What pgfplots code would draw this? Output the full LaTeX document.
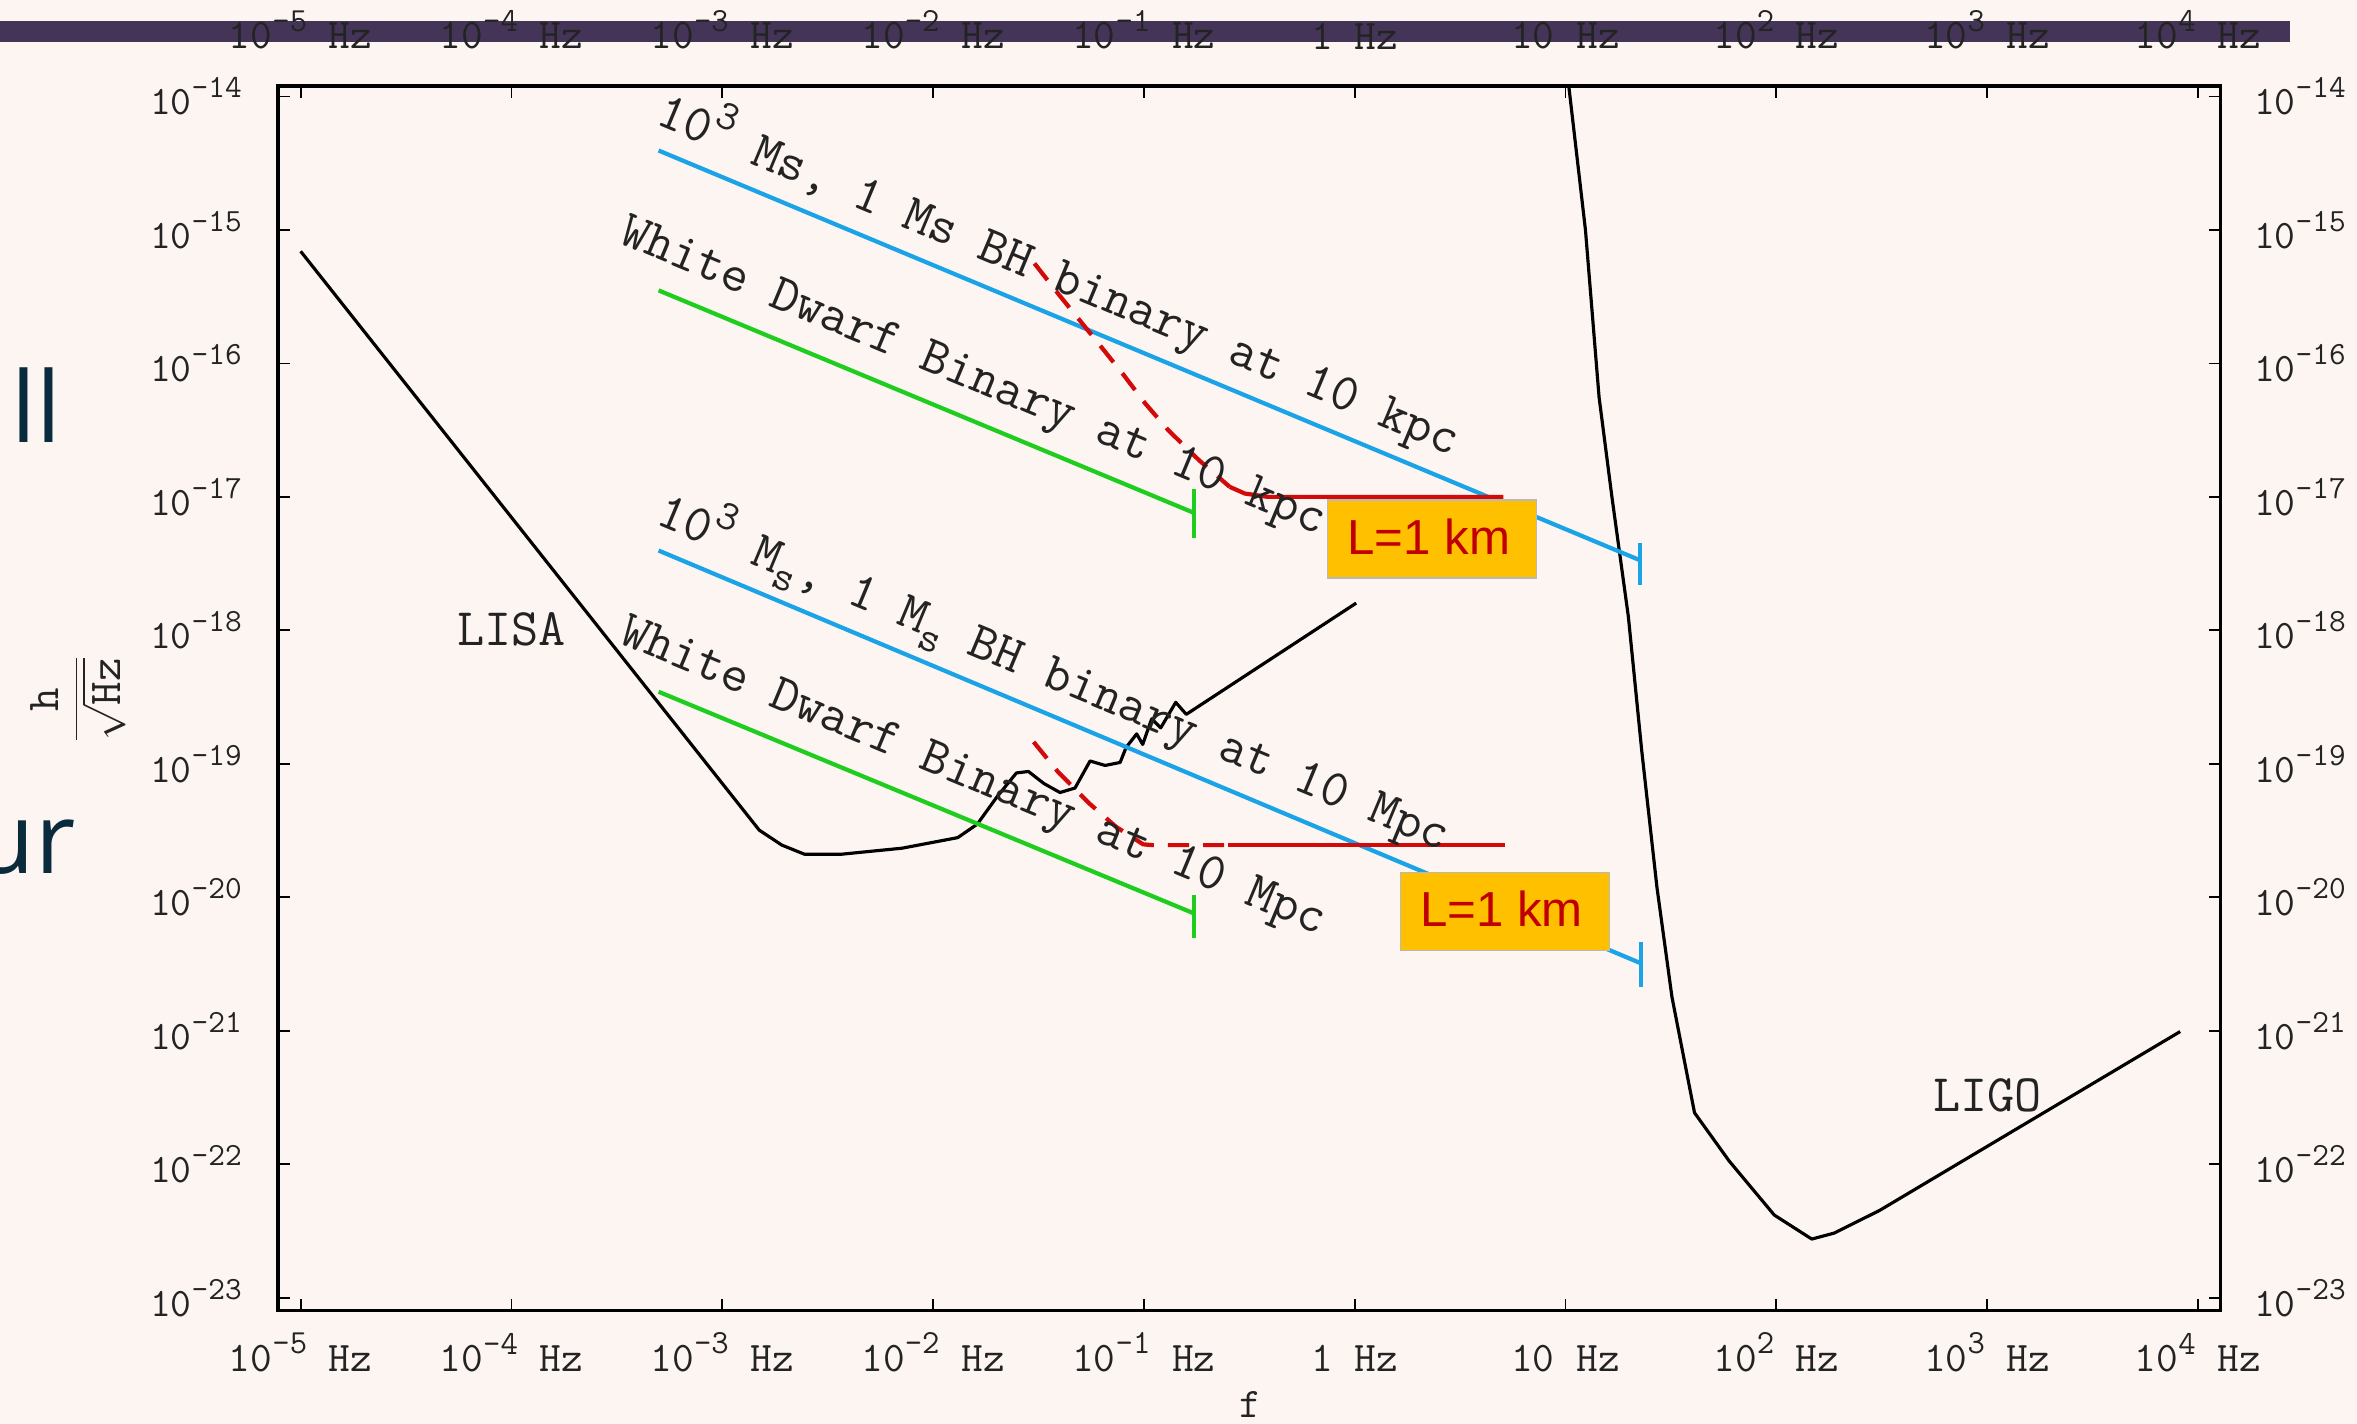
\documentclass[border=0pt]{standalone}
\usepackage{fontspec}
\usepackage{graphicx}
\usepackage{pgfplots}
\pgfplotsset{compat=1.18}
\newfontfamily\boxfont{Liberation Sans}
\newfontfamily\slidefont{Open Sans}

\definecolor{pagebg}{RGB}{253,245,242}
\definecolor{bandpurple}{RGB}{68,53,88}
\definecolor{slidetext}{RGB}{10,43,60}
\definecolor{srcblue}{RGB}{26,163,230}
\definecolor{srcgreen}{RGB}{30,205,30}
\definecolor{detred}{RGB}{210,10,10}
\definecolor{boxorange}{RGB}{255,192,0}
\definecolor{boxtext}{RGB}{192,0,0}
\definecolor{labelgray}{RGB}{35,35,35}

% raised / lowered small text for exponents and subscripts
\newcommand\pw[1]{\raisebox{0.42em}{\scalebox{0.8}{#1}}}
\newcommand\sub[1]{\raisebox{-0.25em}{\scalebox{0.8}{#1}}}
% keeps plain labels on the same baseline as those with exponents
\newcommand\pwstrut{\vphantom{\pw{0}}}

\tikzset{linelabel/.style={anchor=base west, inner sep=0pt, rotate=-22.6,
    font=\ttfamily\fontsize{15}{15}\selectfont, text=labelgray}}

\begin{document}
\begin{tikzpicture}
  % page
  \fill[pagebg] (0,0) rectangle (235.7mm,142.4mm);
  \path[use as bounding box] (0,0) rectangle (235.7mm,142.4mm);
  % banner strip along the top
  \fill[bandpurple] (0,138.17mm) rectangle (228.98mm,140.28mm);
  % slide text running off the left edge
  \node[anchor=base east, inner sep=0pt, text=slidetext, font=\slidefont\fontsize{28}{28}\selectfont] at (6.2mm,98.18mm) {ll};
  \node[anchor=base east, inner sep=0pt, text=slidetext, font=\slidefont\fontsize{28}{28}\selectfont] at (7.6mm,55.03mm) {ur};

  % tick labels on top and right
  \begin{axis}[
    at={(27.81mm,11.35mm)}, anchor=south west,
    scale only axis, width=194.26mm, height=122.46mm,
    xmode=log, ymode=log,
    xmin=7.816e-6, xmax=12823, ymin=8.017e-24, ymax=1.1995e-14,
    xtick={1e-5,1e-4,1e-3,1e-2,1e-1,1,10,100,1000,10000},
    xticklabels={10\pw{-5} Hz,10\pw{-4} Hz,10\pw{-3} Hz,10\pw{-2} Hz,10\pw{-1} Hz,\pwstrut 1 Hz,\pwstrut 10 Hz,10\pw{2} Hz,10\pw{3} Hz,10\pw{4} Hz},
    ytick={1e-23,1e-22,1e-21,1e-20,1e-19,1e-18,1e-17,1e-16,1e-15,1e-14},
    yticklabels={10\pw{-23},10\pw{-22},10\pw{-21},10\pw{-20},10\pw{-19},10\pw{-18},10\pw{-17},10\pw{-16},10\pw{-15},10\pw{-14}},
    minor tick length=0pt, minor tick style={draw=none},
    xticklabel style={font=\ttfamily\fontsize{12}{12}\selectfont, text=labelgray, yshift=2.4mm},
    yticklabel style={font=\ttfamily\fontsize{11.5}{12}\selectfont, text=labelgray, xshift=2.1mm},
    axis line style={draw=none}, major tick length=0pt,
    xticklabel pos=right, yticklabel pos=right,
  ]
    \addplot[draw=none] coordinates {(1,1e-18)};
  \end{axis}

  \begin{axis}[
    at={(27.81mm,11.35mm)}, anchor=south west,
    scale only axis, width=194.26mm, height=122.46mm,
    xmode=log, ymode=log,
    xmin=7.816e-6, xmax=12823, ymin=8.017e-24, ymax=1.1995e-14,
    xtick={1e-5,1e-4,1e-3,1e-2,1e-1,1,10,100,1000,10000},
    xticklabels={10\pw{-5} Hz,10\pw{-4} Hz,10\pw{-3} Hz,10\pw{-2} Hz,10\pw{-1} Hz,\pwstrut 1 Hz,\pwstrut 10 Hz,10\pw{2} Hz,10\pw{3} Hz,10\pw{4} Hz},
    ytick={1e-23,1e-22,1e-21,1e-20,1e-19,1e-18,1e-17,1e-16,1e-15,1e-14},
    yticklabels={10\pw{-23},10\pw{-22},10\pw{-21},10\pw{-20},10\pw{-19},10\pw{-18},10\pw{-17},10\pw{-16},10\pw{-15},10\pw{-14}},
    minor tick length=0pt, minor tick style={draw=none},
    xticklabel style={font=\ttfamily\fontsize{12}{12}\selectfont, text=labelgray, yshift=-1mm},
    yticklabel style={font=\ttfamily\fontsize{11.5}{12}\selectfont, text=labelgray, xshift=-2.4mm},
    axis background/.style={fill=pagebg},
    axis line style={line width=1pt, black},
    tick align=inside, tick pos=both, major tick length=1.2mm,
    major tick style={line width=0.5pt, black},
  ]
    % LISA sensitivity
    \addplot[black, line width=0.9pt, line join=round] coordinates {
      (1e-5,6.918e-16) (1.498e-3,3.184e-20) (1.917e-3,2.460e-20)
      (2.452e-3,2.104e-20) (3.697e-3,2.104e-20) (7.131e-3,2.333e-20)
      (1.309e-2,2.799e-20) (1.621e-2,3.532e-20) (2.006e-2,5.636e-20)
      (2.484e-2,8.539e-20) (2.833e-2,8.762e-20) (3.356e-2,7.118e-20)
      (4.000e-2,6.095e-20) (4.713e-2,6.587e-20) (5.555e-2,1.050e-19)
      (6.546e-2,9.723e-20) (7.715e-2,1.024e-19) (8.237e-2,1.327e-19)
      (9.244e-2,1.676e-19) (9.870e-2,1.397e-19) (1.089e-1,2.172e-19)
      (1.202e-1,1.859e-19) (1.416e-1,2.889e-19) (1.589e-1,2.347e-19)
      (1.0166,1.600e-18)
    };
    % LIGO sensitivity
    \addplot[black, line width=0.9pt, line join=round] coordinates {
      (10.13,1.637e-14) (12.44,9.94e-16) (14.43,5.587e-17) (16.59,1.009e-17)
      (19.87,1.267e-18) (23.03,1.227e-19) (27.15,1.189e-20) (31.99,1.791e-21)
      (40.93,2.430e-22) (59.70,1.059e-22) (97.72,4.166e-23) (147.3,2.750e-23)
      (188.5,3.051e-23) (308.6,4.502e-23) (8237,9.863e-22)
    };

    % BH binaries (10 kpc and 10 Mpc)
    \addplot[srcblue, line width=1.2pt] coordinates {(4.989e-4,3.936e-15) (22.59,3.350e-18)};
    \addplot[srcblue, line width=1.2pt] coordinates {(22.59,4.52e-18) (22.59,2.18e-18)};
    \addplot[srcblue, line width=1.2pt] coordinates {(4.989e-4,3.963e-18) (22.75,3.206e-21)};
    \addplot[srcblue, line width=1.2pt] coordinates {(22.75,4.61e-21) (22.75,2.12e-21)};

    % white dwarf binaries (10 kpc and 10 Mpc)
    \addplot[srcgreen, line width=1.2pt] coordinates {(4.989e-4,3.524e-16) (0.1730,7.586e-18)};
    \addplot[srcgreen, line width=1.2pt] coordinates {(0.1730,1.148e-17) (0.1730,4.880e-18)};
    \addplot[srcgreen, line width=1.2pt] coordinates {(4.989e-4,3.467e-19) (0.1730,7.568e-21)};
    \addplot[srcgreen, line width=1.2pt] coordinates {(0.1730,1.045e-20) (0.1730,4.920e-21)};

    % L = 1 km detector curves
    \addplot[detred, line width=1.2pt, dash pattern=on 6pt off 4pt] coordinates {
      (3.027e-2,5.610e-16) (3.972e-2,3.243e-16) (5.916e-2,1.493e-16)
      (7.925e-2,8.395e-17) (1.016e-1,5.000e-17) (1.306e-1,3.155e-17)
      (1.828e-1,1.879e-17) (2.553e-1,1.189e-17)
    };
    \addplot[detred, line width=1.2pt] coordinates {
      (2.553e-1,1.189e-17) (3.013e-1,1.059e-17) (3.873e-1,1.0e-17) (5.070,1.0e-17)
    };
    \addplot[detred, line width=1.2pt, dash pattern=on 6pt off 4pt] coordinates {
      (2.999e-2,1.459e-19) (3.917e-2,8.690e-20) (5.508e-2,5.047e-20)
      (7.379e-2,3.373e-20) (9.908e-2,2.495e-20) (1.091e-1,2.460e-20)
      (2.500e-1,2.460e-20)
    };
    \addplot[detred, line width=1.2pt] coordinates {(2.500e-1,2.460e-20) (5.140,2.460e-20)};

    % curve and source labels
    \node[font=\ttfamily\fontsize{15}{15}\selectfont, text=labelgray] at (axis cs:1e-4,1.016e-18) {LISA};
    \node[font=\ttfamily\fontsize{15}{15}\selectfont, text=labelgray] at (axis cs:1006,3.29e-22) {LIGO};
    \node[linelabel] at (axis cs:4.746e-4,6.27e-15) {10\pw{3} Ms, 1 Ms BH binary at 10 kpc};
    \node[linelabel] at (axis cs:3.147e-4,8.08e-16) {White Dwarf Binary at 10 kpc};
    \node[linelabel] at (axis cs:4.746e-4,6.325e-18) {10\pw{3} M\sub{s}, 1 M\sub{s} BH binary at 10 Mpc};
    \node[linelabel] at (axis cs:3.147e-4,8.15e-19) {White Dwarf Binary at 10 Mpc};
  \end{axis}

  % detector arm length tags
  \node[anchor=north west, minimum width=20.9mm, minimum height=7.8mm, inner sep=0pt,
        fill=boxorange, draw=gray!55, line width=0.3pt] at (132.73mm,92.45mm) {};
  \node[anchor=base west, inner sep=0pt, text=boxtext, font=\boxfont\fontsize{14}{14}\selectfont] at (134.67mm,86.96mm) {L=1 km};
  \node[anchor=north west, minimum width=20.9mm, minimum height=7.8mm, inner sep=0pt,
        fill=boxorange, draw=gray!55, line width=0.3pt] at (139.96mm,55.21mm) {};
  \node[anchor=base west, inner sep=0pt, text=boxtext, font=\boxfont\fontsize{14}{14}\selectfont] at (141.96mm,49.72mm) {L=1 km};

  % axis titles
  \node[rotate=90, text=labelgray, font=\ttfamily\fontsize{13}{13}\selectfont] at (7.82mm,72.47mm)
    {$\displaystyle\frac{\texttt{h}}{\sqrt{\texttt{Hz}}}$};
  \node[anchor=base, inner sep=0pt, text=labelgray, font=\ttfamily\fontsize{12}{12}\selectfont] at (125mm,0.6mm) {f};
\end{tikzpicture}
\end{document}
